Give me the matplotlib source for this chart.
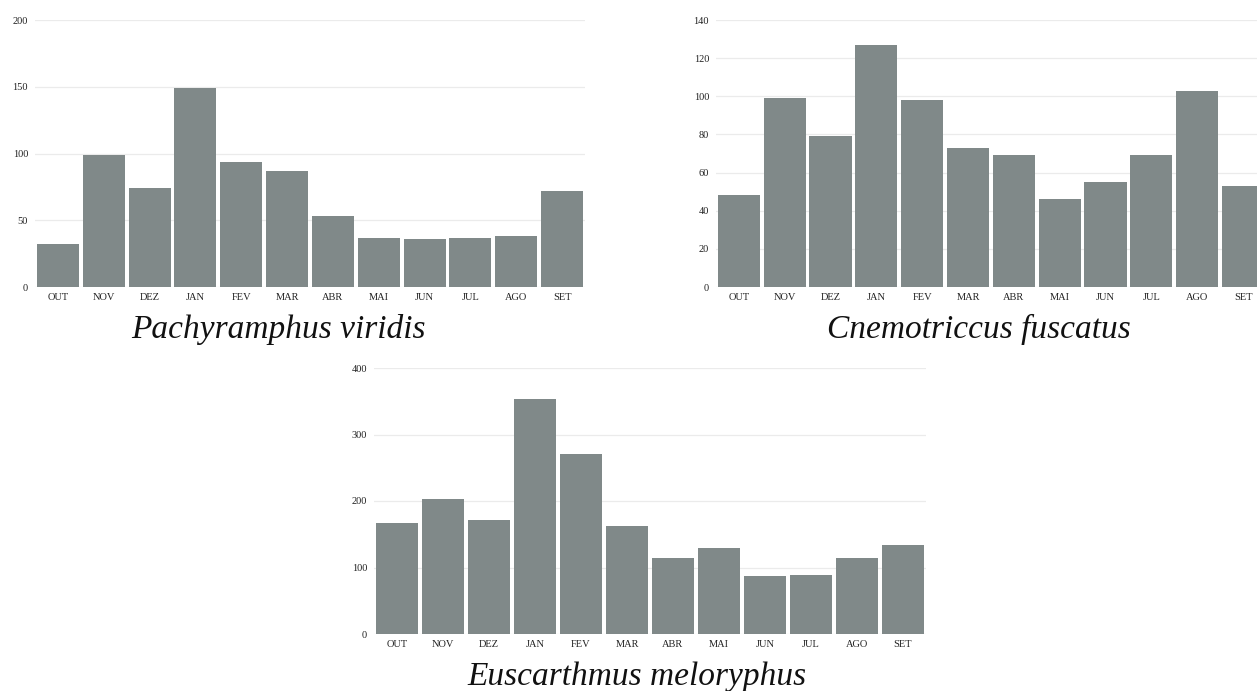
import matplotlib
matplotlib.use("Agg")
import matplotlib.pyplot as plt

months = ["OUT", "NOV", "DEZ", "JAN", "FEV", "MAR", "ABR", "MAI", "JUN", "JUL", "AGO", "SET"]

pachyramphus = [32, 99, 74, 149, 94, 87, 53, 37, 36, 37, 38, 72]
cnemotriccus = [48, 99, 79, 127, 98, 73, 69, 46, 55, 69, 103, 53]
euscarthmus = [167, 203, 172, 353, 270, 162, 114, 130, 87, 89, 115, 134]

titles = ["Pachyramphus viridis", "Cnemotriccus fuscatus", "Euscarthmus meloryphus"]
yticks_list = [[0, 50, 100, 150, 200], [0, 20, 40, 60, 80, 100, 120, 140], [0, 100, 200, 300, 400]]

W, H = 1257, 691
fig = plt.figure(figsize=(W / 100, H / 100), dpi=100)
fig.patch.set_facecolor("white")

bar_color = "#808989"
grid_color = "#ebebeb"
serif = ["Liberation Serif", "DejaVu Serif"]

def px_axes(left, top, right, bottom):
    return fig.add_axes([left / W, 1 - bottom / H, (right - left) / W, (bottom - top) / H])

axes_specs = [
    (35, 20, 585, 287),
    (716, 20, 1266, 287),
    (374, 368, 926, 634),
]
series = [pachyramphus, cnemotriccus, euscarthmus]
title_pos = [(278, 338), (979, 338), (637, 685)]

for spec, vals, yt, title, tpos in zip(axes_specs, series, yticks_list, titles, title_pos):
    ax = px_axes(*spec)
    x = list(range(len(months)))
    ax.bar(x, vals, width=0.92, color=bar_color, zorder=2)
    ax.set_xlim(-0.5, len(months) - 0.5)
    ax.set_ylim(0, yt[-1])
    ax.set_yticks(yt)
    ax.set_yticklabels([str(v) for v in yt], fontfamily=serif, fontsize=7.5, color="#222222")
    ax.set_xticks(x)
    ax.set_xticklabels(months, fontfamily=serif, fontsize=7.5, color="#222222")
    ax.tick_params(axis="both", length=0)
    ax.tick_params(axis="y", pad=5)
    ax.tick_params(axis="x", pad=4)
    for s in ax.spines.values():
        s.set_visible(False)
    ax.yaxis.grid(True, color=grid_color, linewidth=0.9, zorder=0)
    ax.set_axisbelow(True)
    ax.patch.set_alpha(0)
    fig.text(tpos[0] / W, 1 - tpos[1] / H, title, ha="center", va="baseline",
             fontfamily=serif, fontstyle="italic", fontsize=24, color="#111111")

fig.savefig("out.png", dpi=100, facecolor="white")
